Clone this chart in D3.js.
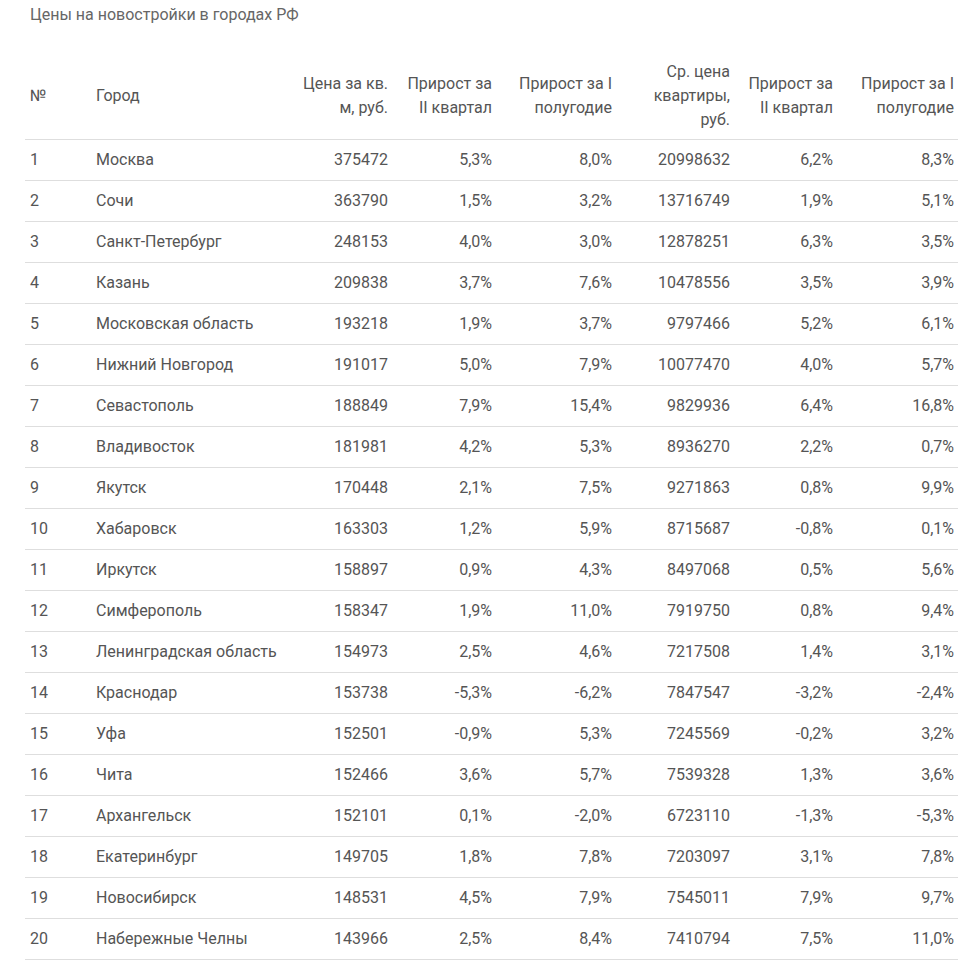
<!DOCTYPE html>
<html><head><meta charset="utf-8">
<script src="https://cdn.jsdelivr.net/npm/d3@7"></script>
<style>
html,body{margin:0;padding:0;background:#fff;}
svg text{font-family:Roboto,"Noto Sans",sans-serif;}
</style></head>
<body><div id="chart"></div>
<script>
const title = "Цены на новостройки в городах РФ";
const headers = [
  ["№"], ["Город"], ["Цена за кв.", "м, руб."], ["Прирост за", "II квартал"], ["Прирост за I", "полугодие"],
  ["Ср. цена", "квартиры,", "руб."], ["Прирост за", "II квартал"], ["Прирост за I", "полугодие"]
];
const cities = ["Москва","Сочи","Санкт-Петербург","Казань","Московская область","Нижний Новгород","Севастополь","Владивосток","Якутск","Хабаровск","Иркутск","Симферополь","Ленинградская область","Краснодар","Уфа","Чита","Архангельск","Екатеринбург","Новосибирск","Набережные Челны"];
const pricePerSqm = [375472,363790,248153,209838,193218,191017,188849,181981,170448,163303,158897,158347,154973,153738,152501,152466,152101,149705,148531,143966];
const sqmGrowthQ2 = [5.3,1.5,4.0,3.7,1.9,5.0,7.9,4.2,2.1,1.2,0.9,1.9,2.5,-5.3,-0.9,3.6,0.1,1.8,4.5,2.5];
const sqmGrowthH1 = [8.0,3.2,3.0,7.6,3.7,7.9,15.4,5.3,7.5,5.9,4.3,11.0,4.6,-6.2,5.3,5.7,-2.0,7.8,7.9,8.4];
const avgFlatPrice = [20998632,13716749,12878251,10478556,9797466,10077470,9829936,8936270,9271863,8715687,8497068,7919750,7217508,7847547,7245569,7539328,6723110,7203097,7545011,7410794];
const flatGrowthQ2 = [6.2,1.9,6.3,3.5,5.2,4.0,6.4,2.2,0.8,-0.8,0.5,0.8,1.4,-3.2,-0.2,1.3,-1.3,3.1,7.9,7.5];
const flatGrowthH1 = [8.3,5.1,3.5,3.9,6.1,5.7,16.8,0.7,9.9,0.1,5.6,9.4,3.1,-2.4,3.2,3.6,-5.3,7.8,9.7,11.0];

const W = 971, H = 961;
const svg = d3.select("#chart").append("svg").attr("width", W).attr("height", H);
const textColor = "#555", lineColor = "#dedede";
const pct = v => d3.format(".1f")(v).replace(".", ",").replace("−", "-") + "%";

const rows = cities.map((c, i) => [String(i + 1), c, String(pricePerSqm[i]), pct(sqmGrowthQ2[i]), pct(sqmGrowthH1[i]),
  String(avgFlatPrice[i]), pct(flatGrowthQ2[i]), pct(flatGrowthH1[i])]);

// column anchors
const cols = [
  {x: 30, anchor: "start"}, {x: 96, anchor: "start"}, {x: 388, anchor: "end"}, {x: 492, anchor: "end"},
  {x: 612, anchor: "end"}, {x: 730, anchor: "end"}, {x: 833, anchor: "end"}, {x: 954, anchor: "end"}
];

svg.append("text").attr("x", 30).attr("y", 20).attr("font-size", 16).attr("fill", "#666").text(title);

const y = d3.scaleBand().domain(d3.range(rows.length)).range([139, 959]);

// header
const headerCenter = 95, lh = 24;
cols.forEach((c, j) => {
  const lines = headers[j];
  const t = svg.append("text").attr("font-size", 16).attr("fill", textColor).attr("text-anchor", c.anchor);
  lines.forEach((l, k) => {
    t.append("tspan").attr("x", c.x).attr("y", headerCenter + (k - (lines.length - 1) / 2) * lh).attr("dy", "0.35em").text(l);
  });
});

// lines
svg.append("line").attr("x1", 25).attr("x2", 958).attr("y1", 139.5).attr("y2", 139.5).attr("stroke", lineColor);
const g = svg.selectAll("g.row").data(rows).join("g").attr("class", "row");
g.append("line").attr("x1", 25).attr("x2", 958)
  .attr("y1", (d, i) => Math.round(y(i) + y.bandwidth()) + 0.5)
  .attr("y2", (d, i) => Math.round(y(i) + y.bandwidth()) + 0.5)
  .attr("stroke", lineColor);
g.each(function(d, i) {
  const row = d3.select(this);
  d.forEach((v, j) => {
    row.append("text").attr("x", cols[j].x).attr("y", y(i) + y.bandwidth() / 2).attr("dy", "0.35em")
      .attr("font-size", 16).attr("fill", textColor).attr("text-anchor", cols[j].anchor).text(v);
  });
});
</script></body></html>
